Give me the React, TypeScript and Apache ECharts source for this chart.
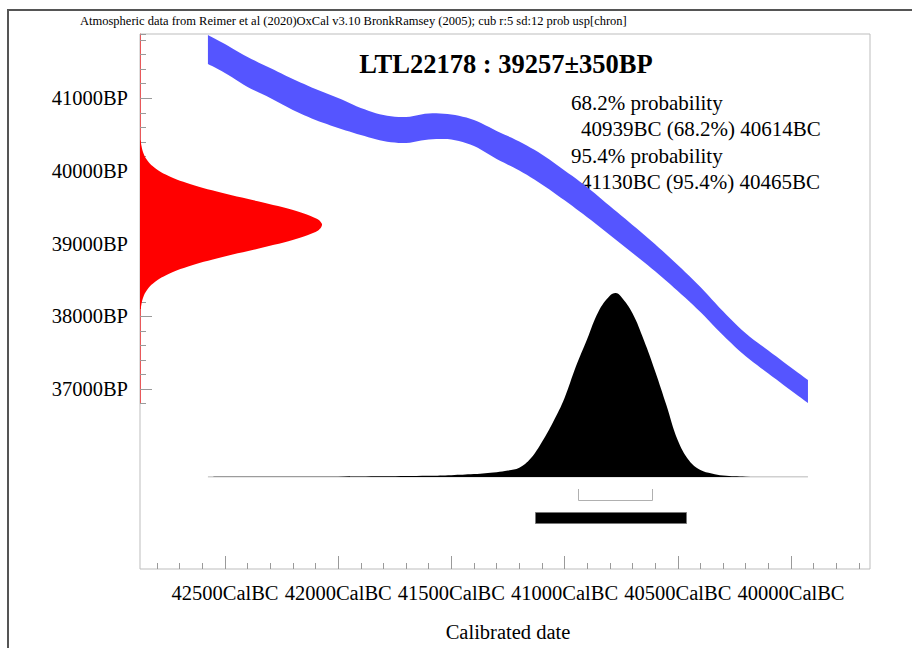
import React, { useEffect, useRef } from "react";
import * as echarts from "echarts";

// ---------- texts ----------
const HEADER_TEXT =
  "Atmospheric data from Reimer et al (2020)OxCal v3.10 BronkRamsey (2005); cub r:5 sd:12 prob usp[chron]";
const TITLE_TEXT = "LTL22178 : 39257±350BP";
const INFO_LINES = [
  "68.2% probability",
  "40939BC (68.2%) 40614BC",
  "95.4% probability",
  "41130BC (95.4%) 40465BC",
];
const X_AXIS_NAME = "Calibrated date";
const X_TICK_SUFFIX = "CalBC";
const Y_TICK_SUFFIX = "BP";

// ---------- axis ranges ----------
const CAL_MIN = 39651; // right edge of plot (cal BC)
const CAL_MAX = 42875; // left edge of plot (cal BC)
const BP_MIN = 34526; // bottom edge of plot
const BP_MAX = 41884; // top edge of plot
const X_MAJOR = [40000, 42500]; // labelled ticks, every 500
const X_MINOR = [39700, 42800]; // minor ticks, every 100
const Y_MAJOR = [37000, 41000]; // labelled ticks, every 1000
const Y_MINOR = [36800, BP_MAX]; // minor ticks, every 200

// ---------- radiocarbon determination (red) ----------
const rcBP = [
  38100, 38150, 38250, 38350, 38450, 38550, 38650, 38750, 38850, 38950, 39050,
  39150, 39200, 39257, 39300, 39350, 39450, 39550, 39650, 39750, 39850, 39950,
  40050, 40150, 40250, 40350, 40420,
];
const rcDensity = [
  0.005, 0.0067, 0.0159, 0.0348, 0.0701, 0.13, 0.222, 0.35, 0.509, 0.681, 0.839,
  0.954, 0.987, 1.0, 0.992, 0.965, 0.859, 0.704, 0.532, 0.371, 0.238, 0.141,
  0.077, 0.0386, 0.0179, 0.0076, 0.004,
];

// ---------- calibration curve (blue band) ----------
const curveCalBC = [
  42575, 42500, 42400, 42300, 42200, 42100, 42000, 41900, 41800, 41700, 41600,
  41500, 41400, 41300, 41200, 41100, 41000, 40900, 40800, 40700, 40600, 40500,
  40400, 40300, 40200, 40100, 40000, 39925,
];
const curveBP = [
  41671, 41547, 41362, 41210, 41052, 40915, 40798, 40681, 40591, 40564, 40612,
  40605, 40522, 40358, 40206, 40021, 39802, 39571, 39318, 39065, 38806, 38528,
  38232, 37905, 37610, 37373, 37139, 36967,
];
const curveSigma = [
  199, 199, 206, 206, 213, 213, 206, 186, 179, 179, 179, 172, 179, 193, 199, 206,
  206, 206, 199, 193, 186, 179, 172, 165, 158, 158, 158, 158,
];

// ---------- calibrated probability (black) ----------
const probCalBC = [
  42575, 42300, 42000, 41800, 41600, 41500, 41400, 41300, 41250, 41200, 41150,
  41100, 41050, 41000, 40950, 40900, 40850, 40800, 40775, 40750, 40700, 40650,
  40600, 40550, 40500, 40450, 40400, 40350, 40300, 40200, 40100, 39925,
];
const probDensity = [
  0, 0.001, 0.002, 0.004, 0.007, 0.01, 0.016, 0.026, 0.035, 0.05, 0.1, 0.19, 0.3,
  0.43, 0.6, 0.75, 0.9, 0.985, 1.0, 0.98, 0.89, 0.745, 0.575, 0.39, 0.2, 0.09,
  0.038, 0.019, 0.008, 0.002, 0.0005, 0,
];

// ---------- ranges ----------
const range68 = [40939, 40614];
const range95 = [41130, 40465];

const FONT = '"Liberation Serif", "Times New Roman", serif';
const TICK_COLOR = "#9a9a9a";
const BAND_COLOR = "#5555ff";

// Catmull-Rom resampling of already-projected pixel points (rendering only)
function smoothPixels(pts: number[][], steps = 6): number[][] {
  if (pts.length < 3) return pts;
  const out: number[][] = [];
  for (let i = 0; i < pts.length - 1; i++) {
    const p0 = pts[Math.max(0, i - 1)];
    const p1 = pts[i];
    const p2 = pts[i + 1];
    const p3 = pts[Math.min(pts.length - 1, i + 2)];
    for (let s = 0; s < steps; s++) {
      const t = s / steps;
      const t2 = t * t;
      const t3 = t2 * t;
      const f = (a: number, b: number, c: number, d: number) =>
        0.5 * (2 * b + (-a + c) * t + (2 * a - 5 * b + 4 * c - d) * t2 + (-a + 3 * b - 3 * c + d) * t3);
      out.push([f(p0[0], p1[0], p2[0], p3[0]), f(p0[1], p1[1], p2[1], p3[1])]);
    }
  }
  out.push(pts[pts.length - 1]);
  return out;
}

export default function App() {
  const ref = useRef<HTMLDivElement>(null);

  useEffect(() => {
    document.body.style.margin = "0";
    if (!ref.current) return;
    const chart = echarts.init(ref.current, undefined, { renderer: "svg" });

    const hiddenAxis = (gridIndex: number, min: number, max: number, extra: any = {}) => ({
      type: "value",
      gridIndex,
      min,
      max,
      show: false,
      ...extra,
    });

    const grids: any[] = [
      { left: 140, top: 34, width: 730, height: 535, show: true, borderColor: "#bdbdbd", borderWidth: 1, backgroundColor: "transparent" },
      { left: 157.08, top: 34, width: 701.8, height: 535 },
      { left: 225, top: 34, width: 566, height: 535 },
      { left: 140, top: 34, width: 182, height: 369.6 },
      { left: 140, top: 98.3, width: 100, height: 290.8 },
      { left: 140, top: 293, width: 730, height: 184 },
    ].map((g) => ({ containLabel: false, outerBoundsMode: "none", ...g }));

    const option: any = {
      animation: false,
      backgroundColor: "#ffffff",
      grid: grids,
      xAxis: [
        hiddenAxis(0, CAL_MIN, CAL_MAX, { inverse: true }),
        {
          type: "value",
          gridIndex: 1,
          min: X_MINOR[0],
          max: X_MINOR[1],
          interval: 100,
          inverse: true,
          position: "bottom",
          axisLine: { show: false, onZero: false },
          axisTick: { show: true, inside: true, length: 6, lineStyle: { color: TICK_COLOR, width: 1 } },
          axisLabel: { show: false },
          splitLine: { show: false },
        },
        {
          type: "value",
          gridIndex: 2,
          min: X_MAJOR[0],
          max: X_MAJOR[1],
          interval: 500,
          inverse: true,
          position: "bottom",
          axisLine: { show: false, onZero: false },
          axisTick: { show: true, inside: true, length: 13, lineStyle: { color: TICK_COLOR, width: 1 } },
          axisLabel: {
            show: true,
            margin: 13,
            color: "#000",
            fontFamily: FONT,
            fontSize: 20.5,
            formatter: (v: number) => `${v}${X_TICK_SUFFIX}`,
          },
          splitLine: { show: false },
          name: X_AXIS_NAME,
          nameLocation: "middle",
          nameGap: 52,
          nameTextStyle: { color: "#000", fontFamily: FONT, fontSize: 20.5 },
        },
        hiddenAxis(3, 0, 1),
        hiddenAxis(4, 0, 1),
        hiddenAxis(5, CAL_MIN, CAL_MAX, { inverse: true }),
      ],
      yAxis: [
        hiddenAxis(0, BP_MIN, BP_MAX),
        hiddenAxis(1, 0, 1),
        hiddenAxis(2, 0, 1),
        {
          type: "value",
          gridIndex: 3,
          min: Y_MINOR[0],
          max: Y_MINOR[1],
          interval: 200,
          position: "left",
          axisLine: { show: true, onZero: false, lineStyle: { color: "#e8585a", width: 1 } },
          axisTick: { show: true, inside: true, length: 6, lineStyle: { color: TICK_COLOR, width: 1 } },
          axisLabel: { show: false },
          splitLine: { show: false },
        },
        {
          type: "value",
          gridIndex: 4,
          min: Y_MAJOR[0],
          max: Y_MAJOR[1],
          interval: 1000,
          position: "left",
          axisLine: { show: false, onZero: false },
          axisTick: { show: true, inside: true, length: 12, lineStyle: { color: TICK_COLOR, width: 1 } },
          axisLabel: {
            show: true,
            margin: 12,
            color: "#000",
            fontFamily: FONT,
            fontSize: 20.5,
            formatter: (v: number) => `${v}${Y_TICK_SUFFIX}`,
          },
          splitLine: { show: false },
        },
        hiddenAxis(5, 0, 1),
      ],
      series: [
        {
          name: "Calibration curve",
          type: "custom",
          xAxisIndex: 0,
          yAxisIndex: 0,
          z: 2,
          clip: true,
          data: curveCalBC.map((c, i) => [c, curveBP[i], curveSigma[i]]),
          renderItem: (params: any, api: any) => {
            if (params.dataIndex !== 0) return null;
            const upper = smoothPixels(
              curveCalBC.map((c, i) => api.coord([c, curveBP[i] + curveSigma[i]]))
            );
            const lower = smoothPixels(
              curveCalBC.map((c, i) => api.coord([c, curveBP[i] - curveSigma[i]]))
            ).reverse();
            return {
              type: "polygon",
              shape: { points: upper.concat(lower) },
              style: { fill: BAND_COLOR, stroke: null },
            };
          },
        },
        {
          name: "Radiocarbon determination",
          type: "custom",
          xAxisIndex: 3,
          yAxisIndex: 3,
          z: 3,
          clip: false,
          data: rcBP.map((b, i) => [rcDensity[i], b]),
          renderItem: (params: any, api: any) => {
            if (params.dataIndex !== 0) return null;
            const edge = smoothPixels(rcBP.map((b, i) => api.coord([rcDensity[i], b])));
            const pts = [api.coord([0, rcBP[0]]), ...edge, api.coord([0, rcBP[rcBP.length - 1]])];
            return {
              type: "polygon",
              shape: { points: pts },
              style: { fill: "#ff0000", stroke: null },
            };
          },
        },
        {
          name: "Baseline",
          type: "line",
          xAxisIndex: 5,
          yAxisIndex: 5,
          z: 3,
          showSymbol: false,
          silent: true,
          data: [
            [probCalBC[0], 0],
            [probCalBC[probCalBC.length - 1], 0],
          ],
          lineStyle: { color: "#a0a0a0", width: 1 },
        },
        {
          name: "Calibrated date",
          type: "line",
          xAxisIndex: 5,
          yAxisIndex: 5,
          z: 4,
          showSymbol: false,
          smooth: 0.4,
          data: probCalBC.map((c, i) => [c, probDensity[i]]),
          lineStyle: { width: 0, opacity: 0 },
          areaStyle: { color: "#000000", opacity: 1 },
        },
        {
          name: "Ranges",
          type: "custom",
          xAxisIndex: 5,
          yAxisIndex: 5,
          z: 4,
          clip: false,
          data: [
            [range68[0], range68[1], 0],
            [range95[0], range95[1], 1],
          ],
          renderItem: (params: any, api: any) => {
            const a = api.coord([api.value(0), 0]);
            const b = api.coord([api.value(1), 0]);
            const x1 = Math.round(Math.min(a[0], b[0])) + 0.5;
            const x2 = Math.round(Math.max(a[0], b[0])) + 0.5;
            const y0 = Math.round(a[1]);
            if (api.value(2) === 0) {
              return {
                type: "polyline",
                shape: {
                  points: [
                    [x1, y0 + 12],
                    [x1, y0 + 23.5],
                    [x2, y0 + 23.5],
                    [x2, y0 + 12],
                  ],
                },
                style: { stroke: "#b0b0b0", lineWidth: 1, fill: null },
              };
            }
            return {
              type: "rect",
              shape: { x: x1, y: y0 + 35.5, width: x2 - x1, height: 11 },
              style: { fill: "#000000", stroke: "#777777", lineWidth: 1 },
            };
          },
        },
      ],
      graphic: [
        {
          type: "rect",
          silent: true,
          shape: { x: 8, y: 10, width: 1000, height: 1000 },
          style: { fill: "none", stroke: "#555555", lineWidth: 2 },
        },
        {
          type: "text",
          x: 80,
          y: 21,
          style: {
            text: HEADER_TEXT,
            font: `12.5px ${FONT}`,
            fill: "#000",
            textAlign: "left",
            align: "left",
            textVerticalAlign: "middle",
            verticalAlign: "middle",
          },
        },
        {
          type: "text",
          x: 506,
          y: 64,
          style: {
            text: TITLE_TEXT,
            font: `bold 26.5px ${FONT}`,
            fill: "#000",
            textAlign: "center",
            align: "center",
            textVerticalAlign: "middle",
            verticalAlign: "middle",
          },
        },
        ...INFO_LINES.map((t, i) => ({
          type: "text",
          x: i % 2 === 0 ? 571 : 581,
          y: [103, 129, 156, 182][i],
          style: {
            text: t,
            font: `21px ${FONT}`,
            fill: "#000",
            textAlign: "left",
            align: "left",
            textVerticalAlign: "middle",
            verticalAlign: "middle",
          },
        })),
      ],
    };

    chart.setOption(option);
    return () => chart.dispose();
  }, []);

  return <div ref={ref} style={{ width: 912, height: 648 }} />;
}
